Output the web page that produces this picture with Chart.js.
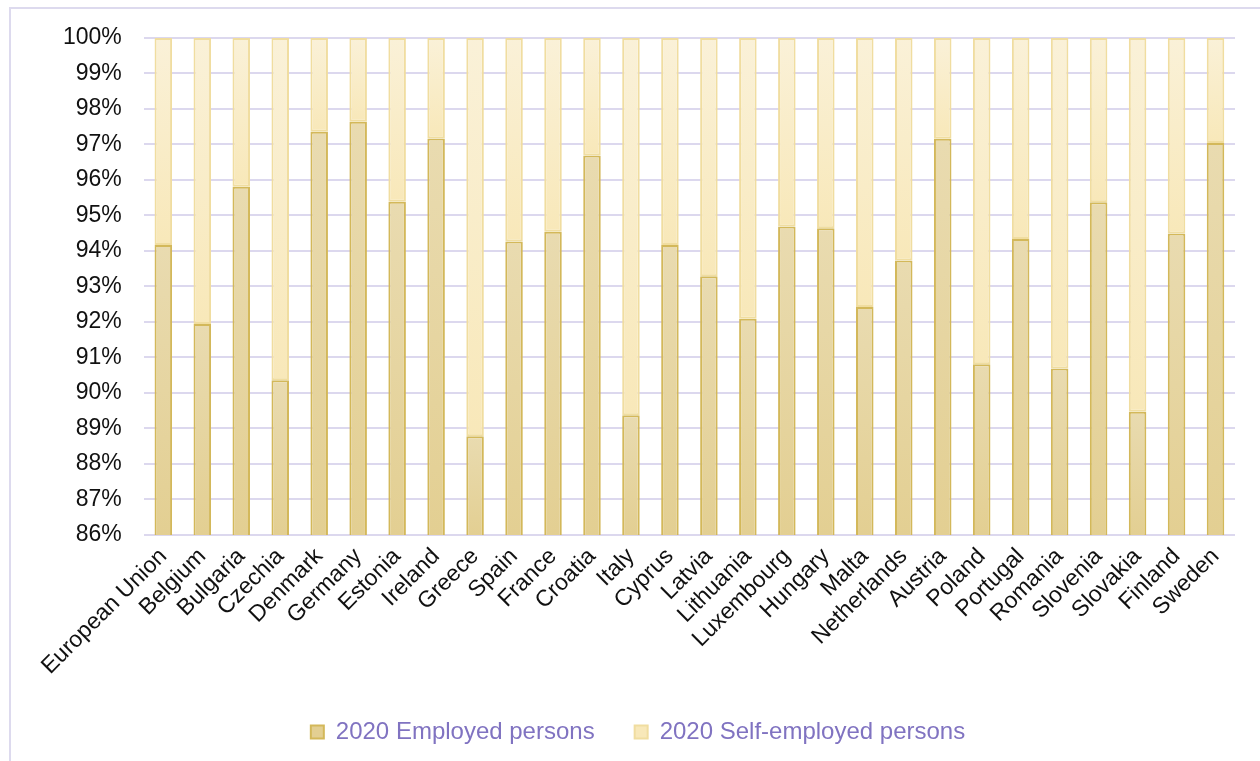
<!DOCTYPE html>
<html lang="en">
<head>
    <meta charset="UTF-8">
    <title>Employed and self-employed persons, 2020</title>
    <script src="https://cdn.jsdelivr.net/npm/chart.js"></script>
    <style>
        body {
            margin: 0;
            padding: 0;
            background: #ffffff;
            overflow: hidden;
        }

        .frame {
            position: absolute;
            left: 9px;
            top: 7px;
            width: 1400px;
            height: 900px;
            border: 2px solid #dddaee;
        }

        .chart-box {
            position: absolute;
            left: 0;
            top: 0;
            width: 1260px;
            height: 761px;
        }
    </style>
</head>
<body>
    <div class="frame"></div>
    <div class="chart-box">
        <canvas id="employmentChart" width="1260" height="761"></canvas>
    </div>

    <script>
        // countries on the x axis
        const countries = ['European Union', 'Belgium', 'Bulgaria', 'Czechia', 'Denmark', 'Germany', 'Estonia',
            'Ireland', 'Greece', 'Spain', 'France', 'Croatia', 'Italy', 'Cyprus', 'Latvia', 'Lithuania',
            'Luxembourg', 'Hungary', 'Malta', 'Netherlands', 'Austria', 'Poland', 'Portugal', 'Romania',
            'Slovenia', 'Slovakia', 'Finland', 'Sweden'];

        // share of employed persons (%)
        const employed = [94.17, 91.94, 95.81, 90.36, 97.36, 97.64, 95.39, 97.17, 88.78, 94.27, 94.54, 96.69,
            89.37, 94.17, 93.29, 92.09, 94.69, 94.64, 92.42, 93.73, 97.16, 90.81, 94.34, 90.69, 95.37,
            89.47, 94.49, 97.04];

        // share of self-employed persons (%)
        const selfEmployed = [5.83, 8.06, 4.19, 9.64, 2.64, 2.36, 4.61, 2.83, 11.22, 5.73, 5.46, 3.31,
            10.63, 5.83, 6.71, 7.91, 5.31, 5.36, 7.58, 6.27, 2.84, 9.19, 5.66, 9.31, 4.63,
            10.53, 5.51, 2.96];

        const yTicks = [86, 87, 88, 89, 90, 91, 92, 93, 94, 95, 96, 97, 98, 99, 100];

        // soft vertical shading inside each bar segment
        function barFill(topColor, bottomColor, flat) {
            return (c) => {
                const chart = c.chart;
                const y = chart.scales.y;
                if (!chart.chartArea || !y || c.type !== 'data') return flat;
                const i = c.dataIndex;
                const lower = c.datasetIndex === 0 ? y.min : employed[i];
                const upper = c.datasetIndex === 0 ? employed[i] : employed[i] + selfEmployed[i];
                const y0 = y.getPixelForValue(Math.min(upper, y.max));
                const y1 = y.getPixelForValue(Math.max(lower, y.min));
                if (!isFinite(y0) || !isFinite(y1) || y1 - y0 < 1) return flat;
                const g = chart.ctx.createLinearGradient(0, y0, 0, y1);
                g.addColorStop(0, topColor);
                g.addColorStop(1, bottomColor);
                return g;
            };
        }

        const ctx = document.getElementById('employmentChart').getContext('2d');

        const employmentChart = new Chart(ctx, {
            type: 'bar',
            data: {
                labels: countries,
                datasets: [{
                    label: '2020 Employed persons',
                    data: employed,
                    backgroundColor: barFill('#e9dbb0', '#e3cf92', '#e6d5a0'),
                    borderColor: '#d3b85a',
                    borderWidth: 2,
                    borderSkipped: false
                }, {
                    label: '2020 Self-employed persons',
                    data: selfEmployed,
                    backgroundColor: barFill('#faf1d8', '#f8e8b9', '#f9edc8'),
                    borderColor: '#f0dda0',
                    borderWidth: 2,
                    borderSkipped: false
                }]
            },
            options: {
                responsive: false,
                animation: false,
                barPercentage: 0.9,
                categoryPercentage: 0.5,
                layout: {
                    padding: { top: 38, right: 25, left: 41, bottom: 7 }
                },
                scales: {
                    x: {
                        stacked: true,
                        grid: { display: false },
                        border: { display: false },
                        ticks: {
                            color: '#111111',
                            font: { family: 'Liberation Sans', size: 23 },
                            maxRotation: 45,
                            minRotation: 45,
                            autoSkip: false,
                            padding: 0
                        }
                    },
                    y: {
                        stacked: true,
                        min: 86,
                        max: 100,
                        afterBuildTicks: (axis) => {
                            axis.ticks = yTicks.map(v => ({ value: v }));
                        },
                        grid: {
                            color: '#dcd8ee',
                            lineWidth: 2,
                            drawTicks: false
                        },
                        border: { display: false },
                        ticks: {
                            color: '#111111',
                            font: { family: 'Liberation Sans', size: 23 },
                            padding: 22,
                            callback: (v) => v + '%'
                        }
                    }
                },
                plugins: {
                    legend: {
                        position: 'bottom',
                        labels: {
                            color: '#8073c1',
                            boxWidth: 13,
                            boxHeight: 13,
                            padding: 40,
                            font: { family: 'Liberation Sans', size: 24 }
                        }
                    },
                    tooltip: { enabled: false }
                }
            }
        });
    </script>
</body>
</html>
